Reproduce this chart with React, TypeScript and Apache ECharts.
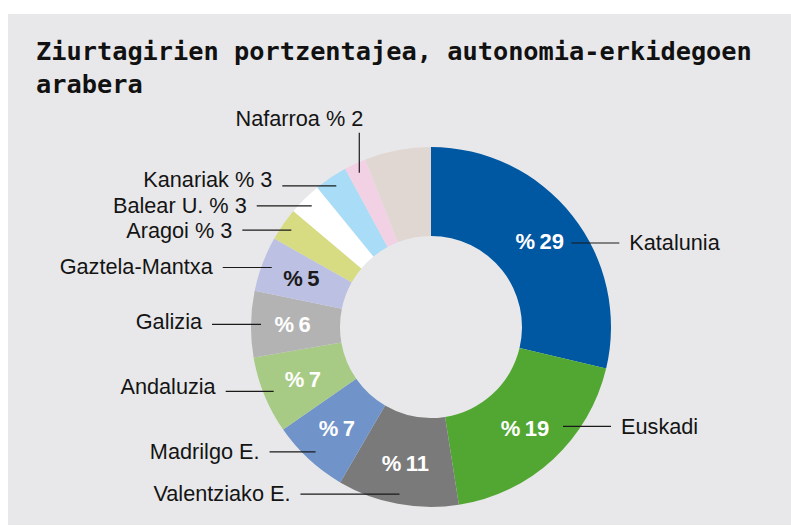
import { useEffect, useRef } from "react";
import * as echarts from "echarts";

// ---- data ----
const TITLE_LINES = ["Ziurtagirien portzentajea, autonomia-erkidegoen", "arabera"];
const categories = [
  "Katalunia",
  "Euskadi",
  "Valentziako E.",
  "Madrilgo E.",
  "Andaluzia",
  "Galizia",
  "Gaztela-Mantxa",
  "Aragoi",
  "Balear U.",
  "Kanariak",
  "Nafarroa",
  "Besteak",
];
const values = [29, 19, 11, 7, 7, 6, 5, 3, 3, 3, 2, 6];
// label kinds: "in" = percentage inside + name outside; "out" = name + % outside; "none"
const labelKinds = ["in", "in", "in", "in", "in", "in", "in", "out", "out", "out", "out", "none"];

// ---- styles ----
const colors = [
  "#0057a2",
  "#52a733",
  "#7a7a7a",
  "#7093c9",
  "#a7cb84",
  "#b3b3b3",
  "#bcc0e2",
  "#d7dc82",
  "#ffffff",
  "#a8dcf7",
  "#f3d1e4",
  "#e0d7d3",
];
const insideTextColors = ["#fff", "#fff", "#fff", "#fff", "#fff", "#fff", "#1a1a1a"];
// guide-line configuration per slice
type LineCfg = { kind: "mid" | "edge" | "up"; skip?: number; len: number } | null;
const lineCfg: LineCfg[] = [
  { kind: "mid", skip: 34, len: 48 },
  { kind: "mid", skip: 40, len: 48 },
  { kind: "edge", len: 99 },
  { kind: "edge", len: 46 },
  { kind: "edge", len: 48 },
  { kind: "edge", len: 49 },
  { kind: "edge", len: 49 },
  { kind: "edge", len: 49 },
  { kind: "edge", len: 55 },
  { kind: "edge", len: 54 },
  { kind: "up", len: 40 },
  null,
];
// vertical offset of each outside text relative to its guide line
const textDy = [0, 0, -1, 0, -5, -3, -1, 0, 0, -6, 0, 0];

const BG = "#e8e8ea";
const W = 783;
const H = 511;
const CX = 423;
const CY = 313;
const R_IN = 91;
const R_OUT = 180;
const R_ANCHOR = 170;

const total = values.reduce((a, b) => a + b, 0);
function midAngle(i: number) {
  let before = 0;
  for (let k = 0; k < i; k++) before += values[k];
  const cw = ((before + values[i] / 2) / total) * 2 * Math.PI; // clockwise from top
  return Math.PI / 2 - cw; // standard math angle
}

export default function App() {
  const ref = useRef<HTMLDivElement>(null);
  useEffect(() => {
    if (!ref.current) return;
    const chart = echarts.init(ref.current, undefined, { renderer: "svg" });

    const dataA = categories.map((name, i) => ({
      name,
      value: values[i],
      itemStyle: { color: colors[i] },
      label:
        labelKinds[i] === "in"
          ? {
              show: true,
              position: "inside",
              formatter: () => `%\u2009${values[i]}`,
              color: insideTextColors[i],
              fontFamily: "'Liberation Sans', Arial, sans-serif",
              fontWeight: "bold",
              fontSize: 22,
            }
          : { show: false },
    }));

    const dataB = categories.map((name, i) => ({
      name,
      value: values[i],
      label:
        labelKinds[i] === "none"
          ? { show: false }
          : {
              show: true,
              formatter: () => (labelKinds[i] === "out" ? `${name} % ${values[i]}` : name),
            },
      labelLine: { show: labelKinds[i] !== "none" },
    }));

    chart.setOption({
      animation: false,
      backgroundColor: BG,
      title: {
        text: TITLE_LINES.join("\n"),
        left: 28,
        top: 21,
        padding: 0,
        textStyle: {
          fontFamily: "'DejaVu Sans Mono', monospace",
          fontWeight: "bold",
          fontSize: 25.3,
          lineHeight: 33,
          color: "#111",
        },
      },
      series: [
        {
          type: "pie",
          center: [CX, CY],
          radius: [R_IN, R_OUT],
          startAngle: 90,
          clockwise: true,
          avoidLabelOverlap: false,
          silent: true,
          itemStyle: { borderWidth: 0 },
          labelLine: { show: false },
          emphasis: { disabled: true },
          data: dataA,
        },
        {
          type: "pie",
          center: [CX, CY],
          radius: [R_IN, R_OUT],
          startAngle: 90,
          clockwise: true,
          avoidLabelOverlap: false,
          silent: true,
          z: 3,
          itemStyle: { color: "rgba(0,0,0,0)", borderWidth: 0 },
          label: {
            show: true,
            position: "outside",
            color: "#141414",
            fontFamily: "'Liberation Sans', Arial, sans-serif",
            fontSize: 21.7,
          },
          labelLine: {
            show: true,
            lineStyle: { color: "#1a1a1a", width: 1.2 },
          },
          labelLayout: (p: any) => {
            const i = p.dataIndex;
            const cfg = lineCfg[i];
            if (!cfg) return {};
            const a = midAngle(i);
            const r = cfg.kind === "mid" ? (R_IN + R_OUT) / 2 : R_ANCHOR;
            const ax = CX + r * Math.cos(a);
            const ay = CY - r * Math.sin(a);
            if (cfg.kind === "up") {
              const top = ay - cfg.len;
              return {
                x: ax + 4,
                y: top - 14,
                align: "right",
                verticalAlign: "middle",
                labelLinePoints: [
                  [ax, ay],
                  [ax, top],
                  [ax, top],
                ],
              };
            }
            const dir = Math.cos(a) >= 0 ? 1 : -1;
            const x0 = ax + dir * (cfg.skip || 0);
            const x1 = x0 + dir * cfg.len;
            return {
              x: x1 + dir * 10,
              y: ay + textDy[i],
              align: dir > 0 ? "left" : "right",
              verticalAlign: "middle",
              labelLinePoints: [
                [x0, ay],
                [x1, ay],
                [x1, ay],
              ],
            };
          },
          emphasis: { disabled: true },
          data: dataB,
        },
      ],
    });
    return () => chart.dispose();
  }, []);

  return (
    <div
      style={{
        position: "absolute",
        left: 8,
        top: 14,
        width: W,
        height: H,
        background: BG,
      }}
    >
      <div ref={ref} style={{ width: W, height: H }} />
    </div>
  );
}
